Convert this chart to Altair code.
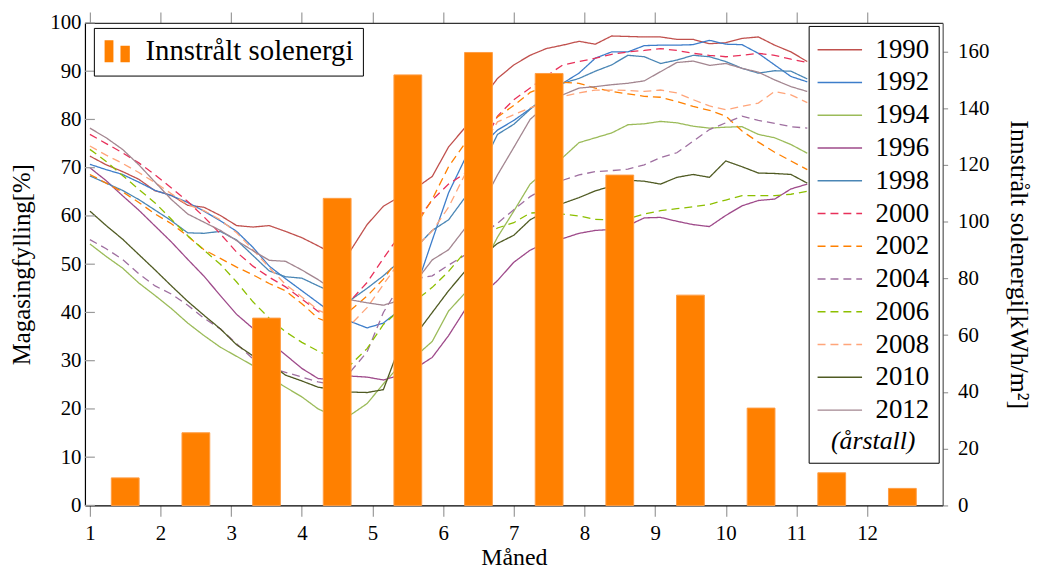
import altair as alt
import pandas as pd

FONT = "Liberation Serif"

# ---- data ----
years = ["1990", "1992", "1994", "1996", "1998", "2000",
         "2002", "2004", "2006", "2008", "2010", "2012"]
colors = ["#C0504D", "#3D7DCA", "#9BBB59", "#9E4A8A", "#4A86B5", "#E8305A",
          "#FF8000", "#9F6FA0", "#8DBF00", "#FFA57A", "#4F5A22", "#A38690"]
dash_solid = [1, 0]
dash_dashed = [8, 5]
dashes = [dash_solid] * 5 + [dash_dashed] * 5 + [dash_solid] * 2

weeks = list(range(1, 46))

fill_1990 = [72.4, 70.6, 69.2, 67.6, 65.2, 64.3, 62.2, 61.8, 60.1, 58.0,
             57.7, 58.0, 56.8, 55.5, 53.8, 52.0, 52.9, 58.2, 62.0, 64.0,
             65.8, 68.2, 74.3, 78.3, 84.0, 88.5, 91.3, 93.3, 94.7, 95.4,
             96.2, 95.6, 97.3, 97.2, 97.1, 97.1, 96.6, 96.6, 95.7, 95.9,
             96.8, 97.1, 95.4, 94.0, 92.0]
fill_1992 = [70.7, 69.6, 68.6, 67.0, 65.3, 64.2, 62.8, 61.0, 59.0, 56.8,
             53.5, 49.6, 47.0, 44.5, 42.0, 39.5, 38.1, 36.8, 37.8, 40.5,
             45.0, 55.0, 64.8, 71.8, 74.5, 77.8, 79.8, 82.2, 84.5, 87.5,
             89.6, 92.7, 94.0, 94.0, 95.3, 95.4, 95.4, 95.5, 96.4, 95.6,
             95.5, 93.7, 91.3, 88.9, 87.8]
fill_1994 = [54.2, 51.6, 49.2, 46.1, 43.5, 40.8, 37.8, 35.2, 32.8, 30.9,
             29.0, 26.6, 24.5, 22.5, 20.0, 18.5, 18.8, 21.1, 25.2, 29.0,
             31.0, 34.0, 40.3, 44.0, 49.0, 55.6, 61.0, 66.6, 69.5, 72.1,
             75.2, 76.2, 77.2, 78.9, 79.1, 79.6, 79.3, 78.6, 78.2, 78.4,
             78.5, 76.9, 76.2, 74.8, 73.0]
fill_1996 = [70.0, 67.3, 64.2, 61.2, 57.9, 54.6, 51.0, 47.5, 43.5, 39.6,
             36.7, 34.0, 31.2, 28.4, 26.3, 26.0, 26.8, 26.6, 26.0, 27.0,
             28.5, 30.7, 35.2, 40.5, 43.5, 46.6, 50.4, 52.9, 54.5, 55.3,
             56.4, 57.0, 57.2, 58.0, 59.6, 59.7, 58.9, 58.2, 57.8, 60.1,
             62.1, 63.2, 63.5, 65.6, 66.6]
fill_1998 = [68.3, 66.8, 65.3, 63.4, 61.2, 59.0, 56.5, 56.4, 56.8, 55.0,
             51.8, 48.6, 47.4, 47.1, 45.5, 44.0, 42.6, 45.0, 47.6, 50.6,
             53.5, 57.0, 59.2, 63.8, 70.0, 76.9, 79.0, 82.1, 85.0, 87.5,
             88.5, 90.0, 91.3, 93.3, 93.0, 91.6, 92.3, 93.3, 93.0, 92.0,
             90.6, 89.6, 90.1, 90.0, 88.4]
fill_2000 = [76.9, 75.0, 73.1, 71.0, 68.5, 65.8, 63.0, 59.8, 56.3, 52.5,
             49.6, 47.3, 45.3, 42.8, 40.2, 38.8, 42.5, 46.2, 51.2, 56.0,
             58.8, 63.3, 66.6, 68.8, 74.0, 80.7, 84.1, 86.5, 89.0, 91.3,
             92.0, 92.7, 93.5, 94.0, 94.3, 94.7, 94.3, 93.7, 93.3, 93.0,
             93.3, 93.7, 93.3, 92.5, 91.8]
fill_2002 = [68.6, 66.8, 65.0, 62.8, 60.4, 58.4, 55.8, 53.0, 51.2, 49.4,
             47.8, 46.0, 44.5, 41.8, 38.8, 37.5, 40.5, 43.4, 46.9, 51.5,
             58.0, 63.5, 70.2, 75.0, 78.0, 80.5, 82.9, 85.6, 87.0, 87.7,
             87.5, 86.5, 85.8, 85.3, 84.8, 84.6, 83.7, 82.7, 81.9, 80.7,
             77.6, 75.3, 73.2, 71.4, 69.6]
fill_2004 = [55.1, 53.2, 51.0, 48.0, 45.5, 43.8, 41.5, 38.8, 36.6, 33.5,
             30.4, 28.5, 27.6, 26.6, 25.6, 25.0, 27.8, 31.8, 40.0, 45.5,
             47.0, 47.6, 49.8, 51.9, 56.0, 58.5, 61.3, 64.0, 66.0, 67.4,
             68.5, 69.2, 69.4, 69.7, 70.6, 72.1, 73.1, 75.5, 77.9, 79.3,
             80.7, 79.8, 79.2, 78.5, 78.2]
fill_2006 = [73.8, 71.3, 68.4, 65.5, 62.7, 59.3, 55.9, 52.9, 50.0, 46.3,
             42.2, 38.8, 36.0, 33.8, 32.0, 30.5, 29.2, 32.5, 37.5, 40.5,
             42.5, 45.2, 48.5, 52.5, 55.2, 57.5, 58.6, 60.6, 60.8, 60.4,
             60.0, 59.3, 59.2, 59.4, 60.4, 61.1, 61.5, 61.9, 62.4, 63.3,
             64.2, 64.2, 64.2, 64.5, 65.1]
fill_2008 = [74.5, 72.6, 70.9, 69.0, 66.9, 64.6, 62.3, 61.1, 59.2, 56.5,
             53.0, 49.3, 45.8, 43.2, 40.5, 39.0, 37.5, 41.0, 45.8, 50.5,
             53.5, 56.9, 61.8, 68.6, 74.0, 79.5, 81.0, 82.4, 83.5, 84.8,
             85.5, 86.1, 86.1, 86.0, 85.8, 86.1, 85.5, 84.1, 82.8, 82.0,
             82.7, 83.4, 85.8, 85.1, 83.5]
fill_2010 = [61.0, 58.0, 55.2, 52.0, 48.8, 45.5, 42.3, 39.4, 36.6, 33.3,
             31.0, 29.5, 27.0, 25.8, 24.5, 24.0, 23.5, 23.4, 24.0, 33.0,
             35.5, 40.0, 44.5, 48.5, 51.5, 54.3, 56.0, 59.2, 61.0, 62.6,
             63.8, 65.2, 66.2, 67.4, 67.2, 66.6, 68.0, 68.6, 68.0, 71.4,
             70.2, 68.9, 68.8, 68.6, 66.8]
fill_2012 = [78.2, 76.2, 73.8, 70.6, 67.0, 63.4, 60.4, 58.7, 57.0, 54.9,
             52.8, 50.8, 50.6, 48.8, 46.8, 44.5, 42.6, 42.0, 41.5, 42.5,
             46.5, 50.9, 53.0, 57.4, 62.0, 68.5, 74.2, 80.0, 83.0, 85.1,
             86.5, 86.8, 87.2, 87.5, 88.0, 89.9, 91.8, 92.1, 91.2, 91.6,
             90.6, 89.8, 88.2, 86.8, 85.8]

series = [fill_1990, fill_1992, fill_1994, fill_1996, fill_1998, fill_2000,
          fill_2002, fill_2004, fill_2006, fill_2008, fill_2010, fill_2012]

months = list(range(1, 13))
solar = [9.7, 25.6, 66.0, 108.2, 151.7, 159.6, 152.2, 116.4, 74.1, 34.3, 11.5, 6.0]
solar_label = "Innstrålt solenergi"

left_ticks = list(range(0, 101, 10))
right_ticks = list(range(0, 161, 20))

# ---- tables ----
rows = []
for yr, vals in zip(years, series):
    for w, v in zip(weeks, vals):
        rows.append({"year": yr, "month": 1 + (w - 1) * 12 / 52, "fill": v})
lines_df = pd.DataFrame(rows)

bars_df = pd.DataFrame({"month": [m + 0.5 for m in months],
                        "solar": solar,
                        "series": [solar_label] * len(months)})
ticks_df = pd.DataFrame({"fill": left_ticks})

# ---- scales / axes ----
xscale = alt.Scale(domain=[1, 13], nice=False, zero=False)
yl = alt.Scale(domain=[0, 100], nice=False)
yr = alt.Scale(domain=[0, 170], nice=False)

x_bottom = alt.Axis(values=months, format="d", orient="bottom",
                    labelFontSize=21, labelFlush=False, labelPadding=6,
                    tickSize=11, tickColor="#9a9a9a", tickWidth=1.2,
                    domainColor="black", domainWidth=1.2, grid=False,
                    titleFontSize=24, titleFontWeight="normal",
                    titleX=432, titleY=52, titleBaseline="middle", titleAlign="center")
x_top = alt.Axis(values=months, orient="top", labels=False,
                 tickSize=11, tickColor="#9a9a9a", tickWidth=1.2,
                 domainColor="#333333", domainWidth=1.2, grid=False)
y_left = alt.Axis(values=left_ticks, orient="left", ticks=False, labelPadding=4,
                  labelFontSize=21, domainColor="black", domainWidth=1.2, grid=False,
                  titleFontSize=25, titleFontWeight="normal", titleAngle=270,
                  titleX=-64, titleY=243, titleBaseline="middle", titleAlign="center")
y_right = alt.Axis(values=right_ticks, orient="right", tickSize=5,
                   tickColor="#9a9a9a", tickWidth=1.2, labelPadding=10,
                   labelFontSize=21, domainColor="#555555", domainWidth=1.2, grid=False,
                   titleFontSize=26, titleFontWeight="normal", titleAngle=90,
                   titleX=76, titleY=243, titleBaseline="middle", titleAlign="center")

year_legend = alt.Legend(
    orient="none", legendX=729, legendY=3, direction="vertical",
    fillColor="white", strokeColor="black", padding=9,
    symbolType="M-1.6,0H1.6", symbolSize=784, symbolStrokeWidth=1.5,
    symbolOffset=7.4, labelOffset=21, labelFontSize=27, labelColor="black",
    labelLimit=300, rowPadding=5, title="(årstall)", titleOrient="bottom",
    titleAnchor="middle", titleFontStyle="italic", titleFontWeight="normal",
    titleFontSize=26, titlePadding=5, titleColor="black")

bar_legend = alt.Legend(
    orient="none", legendX=9, legendY=5, fillColor="white", strokeColor="black",
    padding=9, symbolType="M-1,-0.87H-0.3V0.87H-1Z M0.26,-0.44H1V0.87H0.26Z",
    symbolSize=645, symbolStrokeWidth=0, labelOffset=14, labelFontSize=29,
    labelLimit=500, labelColor="black", title=None)

lines = alt.Chart(lines_df).mark_line(strokeWidth=1.3).encode(
    x=alt.X("month:Q", scale=xscale, axis=x_bottom, title="Måned"),
    y=alt.Y("fill:Q", scale=yl, axis=y_left, title="Magasingfylling[%]"),
    stroke=alt.Stroke("year:N", scale=alt.Scale(domain=years, range=colors), legend=year_legend),
    strokeDash=alt.StrokeDash("year:N", scale=alt.Scale(domain=years, range=dashes), legend=year_legend),
    detail="year:N",
)

left_tick_marks = alt.Chart(ticks_df).mark_rule(color="#9a9a9a", strokeWidth=1.2).encode(
    y=alt.Y("fill:Q", scale=yl, axis=y_left, title="Magasingfylling[%]"),
    x=alt.value(0), x2=alt.value(10),
)

bars = alt.Chart(bars_df).mark_bar(size=28, stroke="#FF9D45", strokeWidth=1).encode(
    x=alt.X("month:Q", scale=xscale, axis=x_top, title=""),
    y=alt.Y("solar:Q", scale=yr, axis=y_right, title="Innstrålt solenergi[kWh/m²]"),
    fill=alt.Fill("series:N", scale=alt.Scale(domain=[solar_label], range=["#FF8000"]),
                  legend=bar_legend),
)

chart = alt.layer(
    alt.layer(lines, left_tick_marks),
    bars,
).resolve_scale(y="independent").resolve_axis(x="independent").properties(
    width=864, height=486,
    padding={"left": 77.5, "top": 13, "right": 92, "bottom": 67},
    autosize=alt.AutoSizeParams(type="none"),
).configure(font=FONT).configure_view(stroke=None).configure_axis(
    labelColor="black", titleColor="black", labelFont=FONT, titleFont=FONT
).configure_legend(labelFont=FONT, titleFont=FONT)

chart.save("out.html", embed_options={"renderer": "svg", "actions": False})
